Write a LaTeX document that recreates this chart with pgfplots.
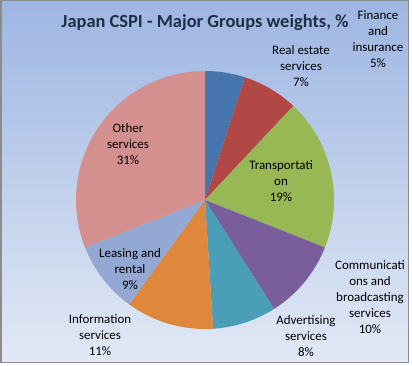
\documentclass[border=0pt]{standalone}
\usepackage{pgfplots}
\pgfplotsset{compat=1.18}
\usepackage{fontspec}
\setmainfont{Carlito}
\definecolor{cFin}{HTML}{4675AE}
\definecolor{cReal}{HTML}{B14845}
\definecolor{cTrans}{HTML}{97B855}
\definecolor{cComm}{HTML}{7A5E9B}
\definecolor{cAdv}{HTML}{4A9EB8}
\definecolor{cInfo}{HTML}{DE873D}
\definecolor{cLease}{HTML}{93A9D3}
\definecolor{cOther}{HTML}{D4908E}
\definecolor{bgTop}{HTML}{9EB6E2}
\definecolor{bgBot}{HTML}{E2E9F5}
\definecolor{titleC}{HTML}{1F2F45}
\begin{document}
\begin{tikzpicture}
\begin{axis}[hide axis, scale only axis, width=412bp, height=366bp,
  xmin=0, xmax=412, ymin=0, ymax=366, clip=false]
\addplot[draw=none, forget plot] coordinates {(0,0) (412,366)};
\pgfplotsextra{
  \fill[white] (axis cs:0,0) rectangle (axis cs:412,366);
  \fill[top color=bgTop, bottom color=bgBot] (axis cs:1,3.5) rectangle (axis cs:408.5,365.2);
  \draw[color=gray!90, line width=1.5bp] (axis cs:0.75,3.5) rectangle (axis cs:408.6,365.25);
  \gdef\angA{90}
  \foreach \v/\c in {5/cFin,7/cReal,19/cTrans,10/cComm,8/cAdv,11/cInfo,9/cLease,31/cOther}{
    \pgfmathsetmacro\angB{\angA-3.6*\v}
    \fill[\c] (axis cs:205,166) -- ++(\angA:129bp) arc[start angle=\angA, end angle=\angB, radius=129bp] -- cycle;
    \xdef\angA{\angB}
  }
  \node[font=\fontsize{18.5}{22}\selectfont\bfseries, text=titleC] at (axis cs:205,343) {Japan CSPI - Major Groups weights, \%};
  \tikzset{lab/.style={align=center, font=\fontsize{13}{16}\selectfont, inner sep=0pt}}
  \node[lab] at (axis cs:378,327) {Finance\\and\\insurance\\5\%};
  \node[lab] at (axis cs:301,300) {Real estate\\services\\7\%};
  \node[lab] at (axis cs:281,185) {Transportati\\on\\19\%};
  \node[lab] at (axis cs:370,69) {Communicati\\ons and\\broadcasting\\services\\10\%};
  \node[lab] at (axis cs:306,30) {Advertising\\services\\8\%};
  \node[lab] at (axis cs:100,31) {Information\\services\\11\%};
  \node[lab] at (axis cs:130,97) {Leasing and\\rental\\9\%};
  \node[lab] at (axis cs:128,222) {Other\\services\\31\%};
}
\end{axis}
\end{tikzpicture}
\end{document}
